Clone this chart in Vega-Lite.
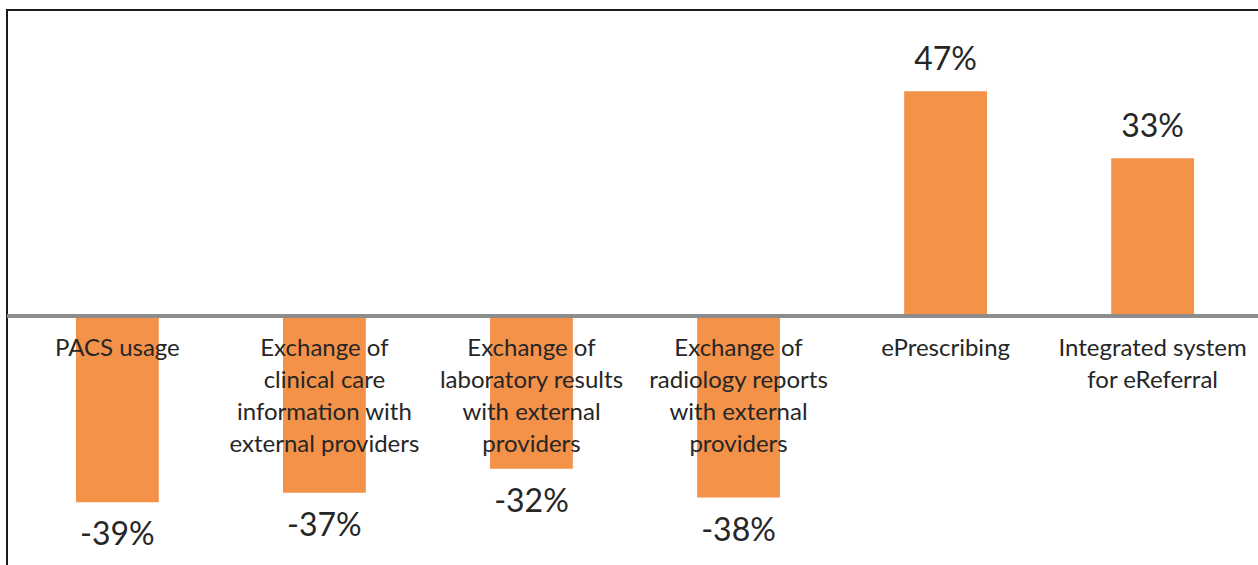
{
  "$schema": "https://vega.github.io/schema/vega-lite/v6.json",
  "width": 1256,
  "height": 570,
  "padding": {"left": 5, "top": 10, "right": 0, "bottom": 0},
  "config": {
    "view": {"stroke": "#1a1a1a", "strokeWidth": 2},
    "font": "Lato"
  },
  "data": {
    "values": [
      {"cat": "PACS usage", "label": "PACS usage", "value": -0.39, "vlabel": "-39%"},
      {"cat": "Exchange of clinical care information with external providers", "label": "Exchange of\nclinical care\ninformation with\nexternal providers", "value": -0.37, "vlabel": "-37%"},
      {"cat": "Exchange of laboratory results with external providers", "label": "Exchange of\nlaboratory results\nwith external\nproviders", "value": -0.32, "vlabel": "-32%"},
      {"cat": "Exchange of radiology reports with external providers", "label": "Exchange of\nradiology reports\nwith external\nproviders", "value": -0.38, "vlabel": "-38%"},
      {"cat": "ePrescribing", "label": "ePrescribing", "value": 0.47, "vlabel": "47%"},
      {"cat": "Integrated system for eReferral", "label": "Integrated system\nfor eReferral", "value": 0.33, "vlabel": "33%"}
    ]
  },
  "layer": [
    {
      "mark": {"type": "bar", "color": "#F4924A"},
      "encoding": {
        "x": {"field": "cat", "type": "nominal", "sort": null, "axis": null, "scale": {"paddingInner": 0.6, "paddingOuter": 0.333}},
        "y": {"field": "value", "type": "quantitative", "axis": null, "scale": {"domain": [-0.5525, 0.64], "nice": false}}
      }
    },
    {
      "mark": {"type": "rule", "color": "#8c8c8c", "strokeWidth": 3},
      "encoding": {"y": {"datum": 0}}
    },
    {
      "mark": {"type": "text", "fontSize": 24, "lineHeight": 32, "lineBreak": "\n", "baseline": "top", "dy": 21, "color": "#262626"},
      "encoding": {
        "x": {"field": "cat", "type": "nominal", "sort": null},
        "y": {"datum": 0},
        "text": {"field": "label"}
      }
    },
    {
      "transform": [{"filter": "datum.value > 0"}],
      "mark": {"type": "text", "fontSize": 32, "baseline": "middle", "dy": -31, "color": "#262626"},
      "encoding": {
        "x": {"field": "cat", "type": "nominal", "sort": null},
        "y": {"field": "value", "type": "quantitative"},
        "text": {"field": "vlabel"}
      }
    },
    {
      "transform": [{"filter": "datum.value < 0"}],
      "mark": {"type": "text", "fontSize": 32, "baseline": "middle", "dy": 33, "color": "#262626"},
      "encoding": {
        "x": {"field": "cat", "type": "nominal", "sort": null},
        "y": {"field": "value", "type": "quantitative"},
        "text": {"field": "vlabel"}
      }
    }
  ]
}
